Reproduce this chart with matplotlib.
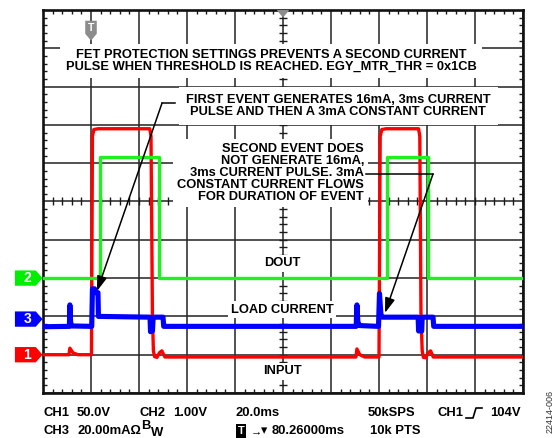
import matplotlib
matplotlib.use("Agg")
import matplotlib.pyplot as plt
from matplotlib.patches import Polygon
from matplotlib.lines import Line2D

# ---------------- data (time in ms, amplitude in screen divisions) ----------------
# CH1 – INPUT (red)
input_t = [-20, -9.2, -8.8, -7.5, -5.5, 0.2, 0.6, 1.2, 3.0, 24.5, 25.0, 25.6, 26.0, 26.5, 27.5, 28.5,
           29.5, 30.3, 30.8, 110.4, 110.8, 112.0, 114.0, 120.0, 120.5, 121.2, 123.0, 136.5, 137.0,
           137.5, 138.0, 138.5, 139.5, 140.5, 141.5, 142.2, 142.6, 180]
input_v = [1.0, 1.0, 1.17, 1.05, 1.0, 1.0, 6.7, 6.88, 6.9, 6.9, 6.7, 2.0, 1.1, 0.95, 0.93, 1.05,
           1.1, 1.0, 0.94, 0.94, 1.15, 1.0, 0.94, 0.94, 6.7, 6.88, 6.9, 6.9, 6.7,
           2.0, 1.1, 0.93, 0.92, 1.05, 1.1, 1.0, 0.94, 0.94]

# CH2 – DOUT (green)
dout_t = [-20, 3.75, 3.75, 28.3, 28.3, 123.3, 123.3, 140.4, 140.4, 180]
dout_v = [3.0, 3.0, 6.16, 6.16, 3.0, 3.0, 6.16, 6.16, 3.0, 3.0]

# CH3 – LOAD CURRENT (blue)
load_t = [-20, -9.0, -8.8, -8.5, -8.0, 0.3, 0.6, 1.5, 2.0, 2.9, 3.1, 24.6, 24.8, 25.6, 25.9, 30.0,
          30.3, 110.5, 110.8, 111.2, 112.0, 119.8, 120.2, 120.8, 121.5, 136.3, 136.5, 137.8, 138.0,
          142.5, 142.8, 180]
load_v = [1.73, 1.74, 2.3, 1.85, 1.75, 1.74, 2.72, 2.72, 2.62, 2.62, 2.0, 1.98, 1.6, 1.62, 1.98, 1.98,
          1.74, 1.74, 2.3, 1.85, 1.76, 1.74, 2.6, 2.05, 1.98, 1.98, 1.62, 1.62, 1.98,
          1.98, 1.74, 1.74]

# channel ground reference levels (divisions)
ch_labels = ["1", "2", "3"]
ch_levels = [1.0, 3.0, 1.93]
ch_colors = ["#ff0000", "#00ee00", "#0000ff"]

W, H = 558, 438
fig = plt.figure(figsize=(W / 100, H / 100), dpi=100)
fig.patch.set_facecolor("white")

def fx(x):
    return x / W

def fy(y):
    return 1 - y / H

L, R, T, B = 43, 523, 10, 393
ax = fig.add_axes([fx(L), fy(B), (R - L) / W, (B - T) / H])
ax.set_xlim(-20, 180)
ax.set_ylim(0, 10)

FONT = ["Liberation Sans", "DejaVu Sans"]
plt.rcParams["font.family"] = FONT

# grid & ticks
ax.set_xticks(range(-20, 181, 20))
ax.set_yticks(range(0, 11))
ax.set_xticks([x * 4 for x in range(-5, 46)], minor=True)
ax.set_yticks([y * 0.2 for y in range(0, 51)], minor=True)
ax.set_xticklabels([])
ax.set_yticklabels([])
ax.tick_params(which="major", length=0)
ax.tick_params(which="minor", direction="in", length=3.2, width=1.0, color="#1a1a1a",
               top=True, right=True, bottom=True, left=True)
ax.set_axisbelow(True)
ax.grid(which="major", color="#2a2a2a", linewidth=1.15)
for s in ax.spines.values():
    s.set_linewidth(1.9)
    s.set_color("#111111")

# centre-line tick marks
cx = [x * 4 for x in range(-5, 46)]
ax.plot(cx, [5] * len(cx), linestyle="none", marker="|", markersize=6, markeredgewidth=1.0,
        color="#1a1a1a", zorder=1)
cy = [y * 0.2 for y in range(0, 51)]
ax.plot([80] * len(cy), cy, linestyle="none", marker="_", markersize=6, markeredgewidth=1.0,
        color="#1a1a1a", zorder=1)

# traces
ax.plot(input_t, input_v, color="#ff0000", linewidth=2.4, zorder=4, solid_joinstyle="round")
ax.plot(dout_t, dout_v, color="#1ff01f", linewidth=2.4, zorder=4)
ax.plot(load_t, load_v, color="#0000ff", linewidth=3.7, zorder=4.5, solid_joinstyle="round")

# text annotations
fs = 9.3
box = dict(facecolor="white", edgecolor="none", boxstyle="square,pad=0.4")
ax.text(75, 8.67, "FET PROTECTION SETTINGS PREVENTS A SECOND CURRENT\nPULSE WHEN THRESHOLD IS REACHED. EGY_MTR_THR = 0x1CB",
        ha="center", va="center", fontsize=fs, fontweight="bold", linespacing=0.98, bbox=box, zorder=3)
ax.text(103, 7.49, "FIRST EVENT GENERATES 16mA, 3ms CURRENT\nPULSE AND THEN A 3mA CONSTANT CURRENT",
        ha="center", va="center", fontsize=fs, fontweight="bold", linespacing=0.98,
        bbox=dict(facecolor="white", edgecolor="none", boxstyle="square,pad=0.55"), zorder=3)
ax.text(113.8, 5.74, "SECOND EVENT DOES\nNOT GENERATE 16mA,\n3ms CURRENT PULSE. 3mA\nCONSTANT CURRENT FLOWS\nFOR DURATION OF EVENT",
        ha="right", va="center", fontsize=fs, fontweight="bold", linespacing=1.0, multialignment="right",
        bbox=dict(facecolor="white", edgecolor="none", boxstyle="square,pad=0.3"), zorder=3)
ax.text(79.6, 3.39, "DOUT", ha="center", va="center", fontsize=fs, fontweight="bold",
        bbox=dict(facecolor="white", edgecolor="none", boxstyle="square,pad=0.2"), zorder=3)
ax.text(79.6, 2.17, "LOAD CURRENT", ha="center", va="center", fontsize=fs, fontweight="bold",
        bbox=dict(facecolor="white", edgecolor="none", boxstyle="square,pad=0.2"), zorder=3)
ax.text(79.6, 0.57, "INPUT", ha="center", va="center", fontsize=fs, fontweight="bold",
        bbox=dict(facecolor="white", edgecolor="none", boxstyle="square,pad=0.2"), zorder=3)

# leader lines with arrows
ax.plot([35, 29.6], [7.57, 7.57], color="black", linewidth=1.1, zorder=5)
ax.annotate("", xy=(2.5, 2.66), xytext=(29.6, 7.57),
            arrowprops=dict(arrowstyle="-|>,head_length=0.9,head_width=0.3", color="black",
                            linewidth=1.1, shrinkA=0, shrinkB=0), zorder=5)
ax.plot([114.6, 142.5], [5.72, 5.72], color="black", linewidth=1.1, zorder=5)
ax.annotate("", xy=(122.5, 2.09), xytext=(142.5, 5.72),
            arrowprops=dict(arrowstyle="-|>,head_length=0.9,head_width=0.3", color="black",
                            linewidth=1.1, shrinkA=0, shrinkB=0), zorder=5)

# channel markers (left)
for lab, lvl, col in zip(ch_labels, ch_levels, ch_colors):
    h = 0.2
    poly = Polygon([(-31.7, lvl - h), (-23.0, lvl - h), (-20.2, lvl), (-23.0, lvl + h), (-31.7, lvl + h)],
                   closed=True, facecolor=col, edgecolor="none", clip_on=False, zorder=6)
    ax.add_patch(poly)
    ax.text(-26.6, lvl, lab, ha="center", va="center", color="white", fontsize=10, fontweight="bold",
            clip_on=False, zorder=7)

# trigger marker T (top)
tp = Polygon([(-2.4, 9.72), (2.4, 9.72), (2.4, 9.38), (0, 9.2), (-2.4, 9.38)], closed=True,
             facecolor="#8c8c8c", edgecolor="none", zorder=6)
ax.add_patch(tp)
ax.text(0, 9.52, "T", ha="center", va="center", color="white", fontsize=7.5, fontweight="bold", zorder=7)
# centre marker
cp = Polygon([(77.4, 10.0), (82.6, 10.0), (80, 9.8)], closed=True, facecolor="#8c8c8c",
             edgecolor="none", clip_on=False, zorder=6)
ax.add_patch(cp)

# bottom readout
row1, row2 = 413, 431
def btxt(x, y, s, size=9.4):
    fig.text(fx(x), fy(y), s, ha="left", va="center", fontsize=size, fontweight="bold",
             family=FONT)

btxt(44, row1, "CH1")
btxt(77, row1, "50.0V")
btxt(140, row1, "CH2")
btxt(173, row1, "1.00V")
btxt(236, row1, "20.0ms")
btxt(368, row1, "50kSPS")
btxt(437, row1, "CH1")
btxt(490, row1, "104V")
# rising-edge trigger symbol
fig.add_artist(Line2D([fx(466), fx(473), fx(476), fx(482)], [fy(418), fy(418), fy(408), fy(408)],
                      color="black", linewidth=1.2))

btxt(44, row2, "CH3")
btxt(77, row2, "20.00mA\u03a9")
btxt(141, row2 - 5, "B")
btxt(151, row2 + 1.5, "W")
fig.text(fx(237.5), fy(row2), "T", ha="left", va="center", fontsize=8, fontweight="bold", color="white",
         family=FONT, bbox=dict(facecolor="black", edgecolor="none", boxstyle="square,pad=0.15"))
btxt(251, row2, "\u2192", size=8)
btxt(261, row2, "\u25be", size=9)
btxt(272, row2, "80.26000ms")
btxt(370, row2, "10k PTS")

fig.text(fx(550), fy(411), "22414-006", rotation=90, ha="center", va="center", fontsize=6.5,
         color="#333333", family=FONT)

fig.savefig("out.png", dpi=100, facecolor="white")
